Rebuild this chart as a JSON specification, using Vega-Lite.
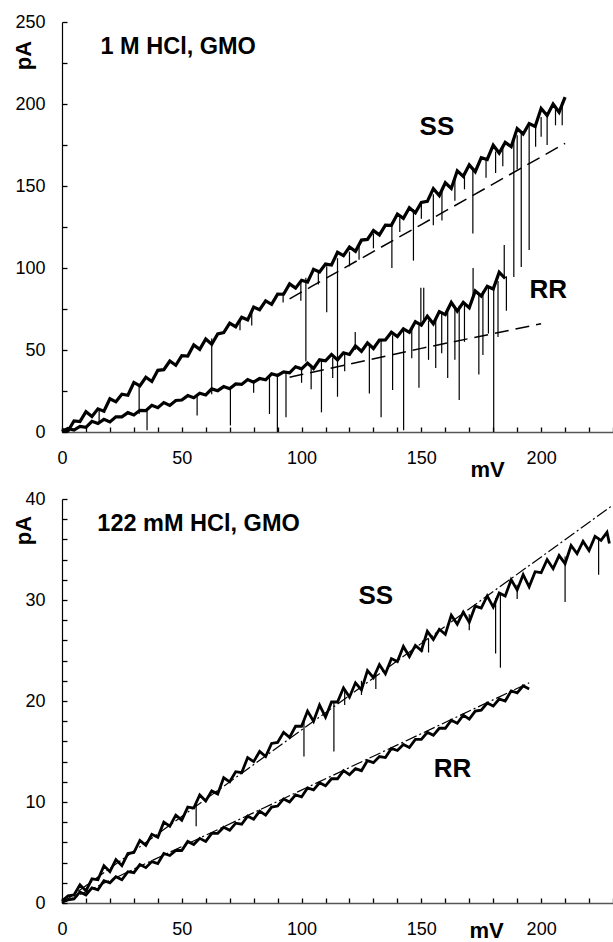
{
"$schema": "https://vega.github.io/schema/vega-lite/v6.json",
"padding": {"left": 12, "top": 13, "right": 0, "bottom": 0},
"spacing": 10,
"config": {
  "view": {"stroke": null},
  "font": "Liberation Sans",
  "axis": {"grid": false, "domainColor": "#000", "domainWidth": 1.2, "labelFont": "Liberation Sans", "labelFontSize": 18, "labelColor": "#000", "labelOverlap": false, "labelFlush": false, "titleFont": "Liberation Sans", "titleFontSize": 22, "titleFontWeight": "bold", "titleColor": "#000"}
},
"datasets": {
  "topTrace": [
    {"s":"SS","x":0,"y":1.5},{"s":"SS","x":2.5,"y":0.6},{"s":"SS","x":5,"y":6.7},{"s":"SS","x":7.5,"y":6.3},{"s":"SS","x":10,"y":12.4},{"s":"SS","x":12.5,"y":9.5},{"s":"SS","x":15,"y":14.1},{"s":"SS","x":17.5,"y":12.7},{"s":"SS","x":20,"y":20.3},{"s":"SS","x":22.5,"y":18.4},{"s":"SS","x":25,"y":23},{"s":"SS","x":27.5,"y":22.4},{"s":"SS","x":30,"y":30.2},{"s":"SS","x":32.5,"y":28.1},{"s":"SS","x":35,"y":33.4},{"s":"SS","x":37.5,"y":30.8},{"s":"SS","x":40,"y":37.6},{"s":"SS","x":42.5,"y":38},{"s":"SS","x":45,"y":43.3},{"s":"SS","x":47.5,"y":40.7},{"s":"SS","x":50,"y":46.5},{"s":"SS","x":52.5,"y":46.3},{"s":"SS","x":55,"y":53.1},{"s":"SS","x":57.5,"y":50.4},{"s":"SS","x":60,"y":56.7},{"s":"SS","x":62.5,"y":53.5},{"s":"SS","x":65,"y":59.8},{"s":"SS","x":67.5,"y":60.6},{"s":"SS","x":70,"y":66.4},{"s":"SS","x":72.5,"y":64.2},{"s":"SS","x":75,"y":70},{"s":"SS","x":77.5,"y":68.4},{"s":"SS","x":80,"y":76.2},{"s":"SS","x":82.5,"y":74.6},{"s":"SS","x":85,"y":79.9},{"s":"SS","x":87.5,"y":77.8},{"s":"SS","x":90,"y":84.1},{"s":"SS","x":92.5,"y":84},{"s":"SS","x":95,"y":90.3},{"s":"SS","x":97.5,"y":87.7},{"s":"SS","x":100,"y":92.5},{"s":"SS","x":102.5,"y":91.4},{"s":"SS","x":105,"y":99.2},{"s":"SS","x":107.5,"y":97.6},{"s":"SS","x":110,"y":102.4},{"s":"SS","x":112.5,"y":101.8},{"s":"SS","x":115,"y":109.6},{"s":"SS","x":117.5,"y":107.5},{"s":"SS","x":120,"y":112.8},{"s":"SS","x":122.5,"y":110.2},{"s":"SS","x":125,"y":117},{"s":"SS","x":127.5,"y":117.4},{"s":"SS","x":130,"y":122.8},{"s":"SS","x":132.5,"y":120.2},{"s":"SS","x":135,"y":126.1},{"s":"SS","x":137.5,"y":126},{"s":"SS","x":140,"y":132.9},{"s":"SS","x":142.5,"y":130.3},{"s":"SS","x":145,"y":136.7},{"s":"SS","x":147.5,"y":133.6},{"s":"SS","x":150,"y":140},{"s":"SS","x":152.5,"y":140.6},{"s":"SS","x":155,"y":148.4},{"s":"SS","x":157.5,"y":144.2},{"s":"SS","x":160,"y":152},{"s":"SS","x":162.5,"y":148.5},{"s":"SS","x":165,"y":159.3},{"s":"SS","x":167.5,"y":155.9},{"s":"SS","x":170,"y":162.9},{"s":"SS","x":172.5,"y":158.7},{"s":"SS","x":175,"y":167.3},{"s":"SS","x":177.5,"y":166.2},{"s":"SS","x":180,"y":174.9},{"s":"SS","x":182.5,"y":170.1},{"s":"SS","x":185,"y":176.6},{"s":"SS","x":187.5,"y":174},{"s":"SS","x":190,"y":185},{"s":"SS","x":192.5,"y":181.7},{"s":"SS","x":195,"y":188.1},{"s":"SS","x":197.5,"y":186.3},{"s":"SS","x":200,"y":197.3},{"s":"SS","x":202.5,"y":193},{"s":"SS","x":205,"y":200},{"s":"SS","x":207.5,"y":195},{"s":"SS","x":210,"y":204.2},
    {"s":"RR","x":0,"y":0.3},{"s":"RR","x":2.5,"y":2.2},{"s":"RR","x":5,"y":1.2},{"s":"RR","x":7.5,"y":3.4},{"s":"RR","x":10,"y":2.8},{"s":"RR","x":12.5,"y":6.5},{"s":"RR","x":15,"y":5.2},{"s":"RR","x":17.5,"y":7.7},{"s":"RR","x":20,"y":6.1},{"s":"RR","x":22.5,"y":9.3},{"s":"RR","x":25,"y":9.2},{"s":"RR","x":27.5,"y":11.8},{"s":"RR","x":30,"y":10.4},{"s":"RR","x":32.5,"y":13.2},{"s":"RR","x":35,"y":13},{"s":"RR","x":37.5,"y":16.3},{"s":"RR","x":40,"y":14.8},{"s":"RR","x":42.5,"y":17.9},{"s":"RR","x":45,"y":16.2},{"s":"RR","x":47.5,"y":19.2},{"s":"RR","x":50,"y":19.5},{"s":"RR","x":52.5,"y":22.2},{"s":"RR","x":55,"y":20.9},{"s":"RR","x":57.5,"y":23.6},{"s":"RR","x":60,"y":22.6},{"s":"RR","x":62.5,"y":26.3},{"s":"RR","x":65,"y":25.2},{"s":"RR","x":67.5,"y":27.7},{"s":"RR","x":70,"y":26.4},{"s":"RR","x":72.5,"y":29.3},{"s":"RR","x":75,"y":29},{"s":"RR","x":77.5,"y":32},{"s":"RR","x":80,"y":30.4},{"s":"RR","x":82.5,"y":32.6},{"s":"RR","x":85,"y":31.8},{"s":"RR","x":87.5,"y":35.5},{"s":"RR","x":90,"y":34.5},{"s":"RR","x":92.5,"y":36.7},{"s":"RR","x":95,"y":36.1},{"s":"RR","x":97.5,"y":39.8},{"s":"RR","x":100,"y":38.5},{"s":"RR","x":102.5,"y":42},{"s":"RR","x":105,"y":38.7},{"s":"RR","x":107.5,"y":44},{"s":"RR","x":110,"y":43.4},{"s":"RR","x":112.5,"y":47.3},{"s":"RR","x":115,"y":44},{"s":"RR","x":117.5,"y":48.3},{"s":"RR","x":120,"y":47.3},{"s":"RR","x":122.5,"y":52.5},{"s":"RR","x":125,"y":49.2},{"s":"RR","x":127.5,"y":54.3},{"s":"RR","x":130,"y":50.9},{"s":"RR","x":132.5,"y":56},{"s":"RR","x":135,"y":56.1},{"s":"RR","x":137.5,"y":60.8},{"s":"RR","x":140,"y":58.2},{"s":"RR","x":142.5,"y":62.9},{"s":"RR","x":145,"y":60.8},{"s":"RR","x":147.5,"y":67.2},{"s":"RR","x":150,"y":65.1},{"s":"RR","x":152.5,"y":70.6},{"s":"RR","x":155,"y":66},{"s":"RR","x":157.5,"y":73.4},{"s":"RR","x":160,"y":71.6},{"s":"RR","x":162.5,"y":79},{"s":"RR","x":165,"y":73.7},{"s":"RR","x":167.5,"y":79},{"s":"RR","x":170,"y":75.8},{"s":"RR","x":172.5,"y":86},{"s":"RR","x":175,"y":82.9},{"s":"RR","x":177.5,"y":88.9},{"s":"RR","x":180,"y":87.2},{"s":"RR","x":182.5,"y":97.4},{"s":"RR","x":185,"y":93.6}
  ],
  "topSpike": [
    {"x":15.5,"y":14,"y2":6},{"x":32.2,"y":29,"y2":11},{"x":62.5,"y":57,"y2":23},{"x":74.3,"y":68,"y2":62},{"x":79.2,"y":73,"y2":65},{"x":92.3,"y":85,"y2":79},{"x":99.7,"y":91,"y2":80},{"x":101.8,"y":94,"y2":43},{"x":107,"y":98,"y2":90},{"x":110.5,"y":101,"y2":73},{"x":115,"y":106,"y2":21.5},{"x":120,"y":110,"y2":101},{"x":124,"y":114,"y2":105},{"x":130,"y":121,"y2":112},{"x":137.7,"y":128,"y2":100},{"x":141,"y":131,"y2":122},{"x":146.7,"y":136,"y2":104.5},{"x":150,"y":140,"y2":130},{"x":155,"y":145,"y2":126},{"x":158.6,"y":149,"y2":129},{"x":164,"y":154,"y2":141},{"x":168,"y":158,"y2":148},{"x":171.5,"y":161,"y2":121},{"x":177,"y":167,"y2":155},{"x":181,"y":171,"y2":158},{"x":184,"y":175,"y2":162},{"x":188.6,"y":180,"y2":94.5},{"x":190,"y":181,"y2":160},{"x":191.7,"y":183,"y2":100.6},{"x":195,"y":187,"y2":111},{"x":197.7,"y":189,"y2":174},{"x":200,"y":192,"y2":180},{"x":202.5,"y":195,"y2":175},{"x":206,"y":198,"y2":187},{"x":208.8,"y":201,"y2":187},
    {"x":35.5,"y":14.5,"y2":1},{"x":56.4,"y":22.5,"y2":10},{"x":70.3,"y":28,"y2":4},{"x":80,"y":31.5,"y2":24},{"x":86.6,"y":34,"y2":11},{"x":89.9,"y":35.5,"y2":0},{"x":93.5,"y":37,"y2":9},{"x":100,"y":39,"y2":30},{"x":104,"y":41,"y2":26},{"x":108.3,"y":43.5,"y2":12},{"x":113,"y":45.5,"y2":33},{"x":118,"y":48,"y2":37},{"x":122.4,"y":50,"y2":61},{"x":128.3,"y":53,"y2":23.5},{"x":133.2,"y":56,"y2":9},{"x":138,"y":59,"y2":25.6},{"x":142.6,"y":62,"y2":1},{"x":146,"y":63.5,"y2":45},{"x":149,"y":65,"y2":27},{"x":149.8,"y":65.5,"y2":88},{"x":151,"y":67,"y2":88},{"x":153,"y":68,"y2":44},{"x":156,"y":70,"y2":39},{"x":158.5,"y":72,"y2":48},{"x":161,"y":73.5,"y2":33},{"x":164,"y":76,"y2":44},{"x":165.8,"y":77,"y2":19.5},{"x":168,"y":79,"y2":55},{"x":171.6,"y":82,"y2":100},{"x":174,"y":84,"y2":35},{"x":175.7,"y":86,"y2":47},{"x":178,"y":88,"y2":60},{"x":180.2,"y":90,"y2":0},{"x":182,"y":92,"y2":58},{"x":184.6,"y":94,"y2":114},{"x":185.5,"y":95,"y2":74}
  ],
  "topFit": [
    {"s":"SS","x":95,"y":81.2},{"s":"SS","x":104,"y":88.6},{"s":"SS","x":150,"y":126.5},{"s":"SS","x":210,"y":176},
    {"s":"RR","x":95,"y":33.4},{"s":"RR","x":100,"y":35},{"s":"RR","x":150,"y":51},{"s":"RR","x":200,"y":66}
  ],
  "topTitle": [{"x":48.5,"y":234.8,"t":"1 M HCl, GMO"}],
  "topSeries": [{"x":156.5,"y":186,"t":"SS"},{"x":203,"y":86.6,"t":"RR"}],
  "botTrace": [
    {"s":"SS","x":0,"y":0.2},{"s":"SS","x":2.5,"y":0.7},{"s":"SS","x":5,"y":0.8},{"s":"SS","x":7.5,"y":1.8},{"s":"SS","x":10,"y":1.2},{"s":"SS","x":12.5,"y":2.4},{"s":"SS","x":15,"y":2.3},{"s":"SS","x":17.5,"y":3.7},{"s":"SS","x":20,"y":3.1},{"s":"SS","x":22.5,"y":4.3},{"s":"SS","x":25,"y":3.7},{"s":"SS","x":27.5,"y":4.9},{"s":"SS","x":30,"y":5},{"s":"SS","x":32.5,"y":6.2},{"s":"SS","x":35,"y":5.7},{"s":"SS","x":37.5,"y":6.8},{"s":"SS","x":40,"y":6.5},{"s":"SS","x":42.5,"y":8},{"s":"SS","x":45,"y":7.6},{"s":"SS","x":47.5,"y":8.7},{"s":"SS","x":50,"y":8.2},{"s":"SS","x":52.5,"y":9.5},{"s":"SS","x":55,"y":9.4},{"s":"SS","x":57.5,"y":10.7},{"s":"SS","x":60,"y":10.1},{"s":"SS","x":62.5,"y":11.1},{"s":"SS","x":65,"y":10.8},{"s":"SS","x":67.5,"y":12.4},{"s":"SS","x":70,"y":12},{"s":"SS","x":72.5,"y":13},{"s":"SS","x":75,"y":12.9},{"s":"SS","x":77.5,"y":14.4},{"s":"SS","x":80,"y":14},{"s":"SS","x":82.5,"y":15},{"s":"SS","x":85,"y":14.5},{"s":"SS","x":87.5,"y":15.8},{"s":"SS","x":90,"y":15.9},{"s":"SS","x":92.5,"y":16.9},{"s":"SS","x":95,"y":16.4},{"s":"SS","x":97.5,"y":17.5},{"s":"SS","x":100,"y":17.5},{"s":"SS","x":102.5,"y":19},{"s":"SS","x":105,"y":18},{"s":"SS","x":107.5,"y":19.6},{"s":"SS","x":110,"y":18.4},{"s":"SS","x":112.5,"y":19.9},{"s":"SS","x":115,"y":19.9},{"s":"SS","x":117.5,"y":21.3},{"s":"SS","x":120,"y":20.4},{"s":"SS","x":122.5,"y":21.8},{"s":"SS","x":125,"y":21.1},{"s":"SS","x":127.5,"y":23},{"s":"SS","x":130,"y":22.3},{"s":"SS","x":132.5,"y":23.6},{"s":"SS","x":135,"y":22.7},{"s":"SS","x":137.5,"y":24.2},{"s":"SS","x":140,"y":23.9},{"s":"SS","x":142.5,"y":25.4},{"s":"SS","x":145,"y":24.4},{"s":"SS","x":147.5,"y":25.5},{"s":"SS","x":150,"y":25},{"s":"SS","x":152.5,"y":26.9},{"s":"SS","x":155,"y":26.1},{"s":"SS","x":157.5,"y":27.1},{"s":"SS","x":160,"y":26.6},{"s":"SS","x":162.5,"y":28.5},{"s":"SS","x":165,"y":27.6},{"s":"SS","x":167.5,"y":28.8},{"s":"SS","x":170,"y":27.8},{"s":"SS","x":172.5,"y":29.4},{"s":"SS","x":175,"y":29.2},{"s":"SS","x":177.5,"y":30.4},{"s":"SS","x":180,"y":29.3},{"s":"SS","x":182.5,"y":30.7},{"s":"SS","x":185,"y":30.4},{"s":"SS","x":187.5,"y":32},{"s":"SS","x":190,"y":31},{"s":"SS","x":192.5,"y":32.5},{"s":"SS","x":195,"y":31.3},{"s":"SS","x":197.5,"y":32.8},{"s":"SS","x":200,"y":32.7},{"s":"SS","x":202.5,"y":34},{"s":"SS","x":205,"y":33.1},{"s":"SS","x":207.5,"y":34.4},{"s":"SS","x":210,"y":33.6},{"s":"SS","x":212.5,"y":35.4},{"s":"SS","x":215,"y":34.6},{"s":"SS","x":217.5,"y":35.8},{"s":"SS","x":220,"y":34.9},{"s":"SS","x":222.5,"y":36.3},{"s":"SS","x":225,"y":35.9},{"s":"SS","x":227.5,"y":36.7},{"s":"SS","x":228.5,"y":35.6},
    {"s":"RR","x":0,"y":0.1},{"s":"RR","x":2.5,"y":0.3},{"s":"RR","x":5,"y":0.4},{"s":"RR","x":7.5,"y":1.1},{"s":"RR","x":10,"y":0.8},{"s":"RR","x":12.5,"y":1.5},{"s":"RR","x":15,"y":1.3},{"s":"RR","x":17.5,"y":2.2},{"s":"RR","x":20,"y":2},{"s":"RR","x":22.5,"y":2.6},{"s":"RR","x":25,"y":2.3},{"s":"RR","x":27.5,"y":3.1},{"s":"RR","x":30,"y":3},{"s":"RR","x":32.5,"y":3.8},{"s":"RR","x":35,"y":3.5},{"s":"RR","x":37.5,"y":4.1},{"s":"RR","x":40,"y":3.9},{"s":"RR","x":42.5,"y":4.9},{"s":"RR","x":45,"y":4.7},{"s":"RR","x":47.5,"y":5.2},{"s":"RR","x":50,"y":5.2},{"s":"RR","x":52.5,"y":6.1},{"s":"RR","x":55,"y":5.8},{"s":"RR","x":57.5,"y":6.4},{"s":"RR","x":60,"y":6.1},{"s":"RR","x":62.5,"y":6.9},{"s":"RR","x":65,"y":6.9},{"s":"RR","x":67.5,"y":7.5},{"s":"RR","x":70,"y":7.2},{"s":"RR","x":72.5,"y":7.9},{"s":"RR","x":75,"y":7.8},{"s":"RR","x":77.5,"y":8.6},{"s":"RR","x":80,"y":8.3},{"s":"RR","x":82.5,"y":9.1},{"s":"RR","x":85,"y":8.7},{"s":"RR","x":87.5,"y":9.5},{"s":"RR","x":90,"y":9.6},{"s":"RR","x":92.5,"y":10.3},{"s":"RR","x":95,"y":10},{"s":"RR","x":97.5,"y":10.7},{"s":"RR","x":100,"y":10.5},{"s":"RR","x":102.5,"y":11.4},{"s":"RR","x":105,"y":11.2},{"s":"RR","x":107.5,"y":11.9},{"s":"RR","x":110,"y":11.6},{"s":"RR","x":112.5,"y":12.3},{"s":"RR","x":115,"y":12.3},{"s":"RR","x":117.5,"y":13.1},{"s":"RR","x":120,"y":12.7},{"s":"RR","x":122.5,"y":13.3},{"s":"RR","x":125,"y":13.1},{"s":"RR","x":127.5,"y":14.1},{"s":"RR","x":130,"y":13.9},{"s":"RR","x":132.5,"y":14.5},{"s":"RR","x":135,"y":14.4},{"s":"RR","x":137.5,"y":15.3},{"s":"RR","x":140,"y":15.1},{"s":"RR","x":142.5,"y":15.7},{"s":"RR","x":145,"y":15.4},{"s":"RR","x":147.5,"y":16.2},{"s":"RR","x":150,"y":16.2},{"s":"RR","x":152.5,"y":16.9},{"s":"RR","x":155,"y":16.6},{"s":"RR","x":157.5,"y":17.3},{"s":"RR","x":160,"y":17.3},{"s":"RR","x":162.5,"y":18.1},{"s":"RR","x":165,"y":17.8},{"s":"RR","x":167.5,"y":18.6},{"s":"RR","x":170,"y":18.2},{"s":"RR","x":172.5,"y":19},{"s":"RR","x":175,"y":19.1},{"s":"RR","x":177.5,"y":19.8},{"s":"RR","x":180,"y":19.5},{"s":"RR","x":182.5,"y":20.2},{"s":"RR","x":185,"y":20},{"s":"RR","x":187.5,"y":21},{"s":"RR","x":190,"y":20.8},{"s":"RR","x":192.5,"y":21.5},{"s":"RR","x":195,"y":21.2}
  ],
  "botSpike": [
    {"x":56,"y":9.8,"y2":7.6},{"x":101,"y":18,"y2":14.5},{"x":113.5,"y":20,"y2":15},{"x":118,"y":21,"y2":19.6},{"x":125,"y":22,"y2":20.6},{"x":131,"y":22.7,"y2":21.2},{"x":150.5,"y":26,"y2":24.9},{"x":153,"y":26.2,"y2":24.8},{"x":170,"y":28.6,"y2":27},{"x":181,"y":30.2,"y2":24.7},{"x":183,"y":30.5,"y2":23.3},{"x":190,"y":31.5,"y2":30.1},{"x":210,"y":34.3,"y2":29.8},{"x":224,"y":36,"y2":32.5}
  ],
  "botFit": [
    {"s":"SS","x":0,"y":0},{"s":"SS","x":230,"y":39.4},
    {"s":"RR","x":0,"y":0},{"s":"RR","x":195,"y":21.8}
  ],
  "botTitle": [{"x":57,"y":37.5,"t":"122 mM HCl, GMO"}],
  "botSeries": [{"x":131,"y":30.4,"t":"SS"},{"x":163,"y":13.3,"t":"RR"}]
},
"vconcat": [
  {
    "width": 551,
    "height": 410,
    "encoding": {
      "x": {"field": "x", "type": "quantitative", "scale": {"domain": [0, 230], "nice": false, "zero": false},
        "axis": {"values": [0,10,20,30,40,50,60,70,80,90,100,110,120,130,140,150,160,170,180,190,200,210,220,230], "labelExpr": "datum.value % 50 === 0 ? datum.label : ''", "ticks": true, "tickSize": -5, "tickWidth": 1.3, "tickColor": "#000", "domainColor": "#555", "domainWidth": 1.6, "labelPadding": 22, "title": "mV", "titleX": 425, "titleY": 37, "titleAlign": "center", "titleBaseline": "middle"}},
      "y": {"field": "y", "type": "quantitative", "scale": {"domain": [0, 250], "nice": false},
        "axis": {"values": [0,25,50,75,100,125,150,175,200,225,250], "labelExpr": "datum.value % 50 === 0 ? datum.label : ''", "ticks": true, "tickSize": -5, "tickWidth": 1.3, "tickColor": "#000", "labelPadding": 22, "title": "pA", "titleX": -39, "titleY": 33, "titleAlign": "center", "titleBaseline": "middle"}}
    },
    "layer": [
      {"data": {"name": "topTrace"}, "mark": {"type": "line", "color": "#000", "strokeWidth": 3.2}, "encoding": {"detail": {"field": "s"}}},
      {"data": {"name": "topSpike"}, "mark": {"type": "rule", "color": "#000", "strokeWidth": 1.2}, "encoding": {"y2": {"field": "y2"}}},
      {"data": {"name": "topFit"}, "mark": {"type": "line", "color": "#000", "strokeWidth": 1.5, "strokeDash": [14, 7]}, "encoding": {"detail": {"field": "s"}}},
      {"data": {"name": "topTitle"}, "mark": {"type": "text", "font": "Liberation Sans", "fontWeight": "bold", "fontSize": 23.5, "align": "center", "baseline": "middle", "color": "#000"}, "encoding": {"text": {"field": "t"}}},
      {"data": {"name": "topSeries"}, "mark": {"type": "text", "font": "Liberation Sans", "fontWeight": "bold", "fontSize": 26, "align": "center", "baseline": "middle", "color": "#000"}, "encoding": {"text": {"field": "t"}}}
    ]
  },
  {
    "width": 551,
    "height": 404,
    "encoding": {
      "x": {"field": "x", "type": "quantitative", "scale": {"domain": [0, 230], "nice": false, "zero": false},
        "axis": {"values": [0,10,20,30,40,50,60,70,80,90,100,110,120,130,140,150,160,170,180,190,200,210,220,230], "labelExpr": "datum.value % 50 === 0 ? datum.label : ''", "ticks": true, "tickSize": -5, "tickWidth": 1.3, "tickColor": "#000", "domainColor": "#555", "domainWidth": 1.6, "labelPadding": 22, "title": "mV", "titleX": 424, "titleY": 27, "titleAlign": "center", "titleBaseline": "middle"}},
      "y": {"field": "y", "type": "quantitative", "scale": {"domain": [0, 40], "nice": false},
        "axis": {"values": [0,2,4,6,8,10,12,14,16,18,20,22,24,26,28,30,32,34,36,38,40], "labelExpr": "datum.value % 10 === 0 ? datum.label : ''", "ticks": true, "tickSize": -5, "tickWidth": 1.3, "tickColor": "#000", "labelPadding": 22, "title": "pA", "titleX": -39, "titleY": 31, "titleAlign": "center", "titleBaseline": "middle"}}
    },
    "layer": [
      {"data": {"name": "botTrace"}, "mark": {"type": "line", "color": "#000", "strokeWidth": 2.8}, "encoding": {"detail": {"field": "s"}}},
      {"data": {"name": "botSpike"}, "mark": {"type": "rule", "color": "#000", "strokeWidth": 1.2}, "encoding": {"y2": {"field": "y2"}}},
      {"data": {"name": "botFit"}, "mark": {"type": "line", "color": "#000", "strokeWidth": 1.2, "strokeDash": [12, 3, 2, 3]}, "encoding": {"detail": {"field": "s"}}},
      {"data": {"name": "botTitle"}, "mark": {"type": "text", "font": "Liberation Sans", "fontWeight": "bold", "fontSize": 23.5, "align": "center", "baseline": "middle", "color": "#000"}, "encoding": {"text": {"field": "t"}}},
      {"data": {"name": "botSeries"}, "mark": {"type": "text", "font": "Liberation Sans", "fontWeight": "bold", "fontSize": 26, "align": "center", "baseline": "middle", "color": "#000"}, "encoding": {"text": {"field": "t"}}}
    ]
  }
]
}
